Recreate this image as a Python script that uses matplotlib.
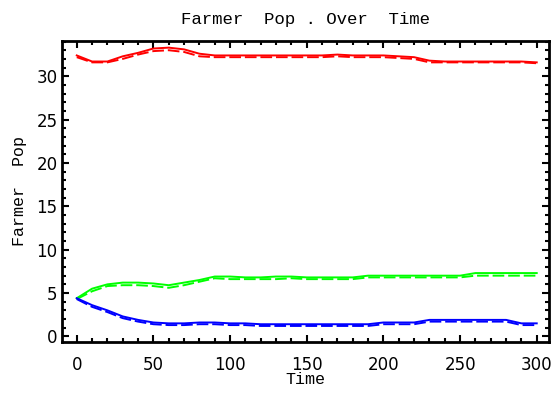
import numpy as np
import matplotlib
matplotlib.use("Agg")
import matplotlib.pyplot as plt
from matplotlib.ticker import MultipleLocator

time = list(range(0, 301, 10))

red_a = [32.4, 31.7, 31.7, 32.3, 32.7, 33.2, 33.3, 33.1, 32.6, 32.4, 32.4,
         32.4, 32.4, 32.4, 32.4, 32.4, 32.4, 32.5, 32.4, 32.4, 32.4, 32.3,
         32.2, 31.8, 31.7, 31.7, 31.7, 31.7, 31.7, 31.7, 31.6]
red_b = [32.2, 31.6, 31.6, 32.0, 32.5, 32.9, 33.0, 32.8, 32.3, 32.2, 32.2,
         32.2, 32.2, 32.2, 32.2, 32.2, 32.2, 32.3, 32.2, 32.2, 32.2, 32.1,
         32.0, 31.6, 31.6, 31.6, 31.6, 31.6, 31.6, 31.6, 31.5]

green_a = [4.4, 5.5, 6.0, 6.2, 6.2, 6.1, 5.9, 6.2, 6.5, 6.9, 6.9,
           6.8, 6.8, 6.9, 6.9, 6.8, 6.8, 6.8, 6.8, 7.0, 7.0, 7.0,
           7.0, 7.0, 7.0, 7.0, 7.3, 7.3, 7.3, 7.3, 7.3]
green_b = [4.3, 5.2, 5.8, 5.9, 5.9, 5.8, 5.6, 5.9, 6.3, 6.7, 6.6,
           6.6, 6.6, 6.6, 6.7, 6.6, 6.6, 6.6, 6.6, 6.8, 6.8, 6.8,
           6.8, 6.8, 6.8, 6.8, 7.0, 7.0, 7.0, 7.0, 7.0]

blue_a = [4.4, 3.6, 3.0, 2.3, 1.9, 1.6, 1.5, 1.5, 1.6, 1.6, 1.5,
          1.5, 1.4, 1.4, 1.4, 1.4, 1.4, 1.4, 1.4, 1.4, 1.6, 1.6,
          1.6, 1.9, 1.9, 1.9, 1.9, 1.9, 1.9, 1.5, 1.5]
blue_b = [4.3, 3.4, 2.8, 2.1, 1.7, 1.4, 1.3, 1.3, 1.4, 1.4, 1.3,
          1.3, 1.2, 1.2, 1.2, 1.2, 1.2, 1.2, 1.2, 1.2, 1.4, 1.4,
          1.4, 1.7, 1.7, 1.7, 1.7, 1.7, 1.7, 1.3, 1.3]

# PLOT
fig = plt.figure(figsize=(5.56, 3.94), dpi=100)
ax = fig.add_axes([0.1124, 0.132, 0.875, 0.7647])

for a, b, c in [(red_a, red_b, '#ff0000'), (green_a, green_b, '#00ff00'),
                (blue_a, blue_b, '#0000ff')]:
    ax.plot(time, a, color=c, lw=1.4)
    ax.plot(time, b, color=c, lw=1.4, dashes=(6, 2))

ax.set_xlim(-9.3, 308)
ax.set_ylim(-0.65, 34.1)

ax.xaxis.set_major_locator(MultipleLocator(50))
ax.xaxis.set_minor_locator(MultipleLocator(10))
ax.yaxis.set_major_locator(MultipleLocator(5))
ax.yaxis.set_minor_locator(MultipleLocator(1))
ax.tick_params(which='both', direction='in', top=True, right=True,
               width=1.5, labelsize=12, colors='black')
ax.tick_params(which='major', length=5)
ax.tick_params(which='minor', length=3)
ax.tick_params(axis='x', which='major', pad=10)
for s in ax.spines.values():
    s.set_linewidth(2)

mono = 'Liberation Mono'
ax.set_title('Farmer  Pop . Over  Time', family=mono, fontsize=12.5, pad=12)
ax.set_xlabel('Time', family=mono, fontsize=12, labelpad=-1)
ax.set_ylabel('Farmer  Pop', family=mono, fontsize=12, labelpad=7)

fig.savefig('out.png', dpi=100)
